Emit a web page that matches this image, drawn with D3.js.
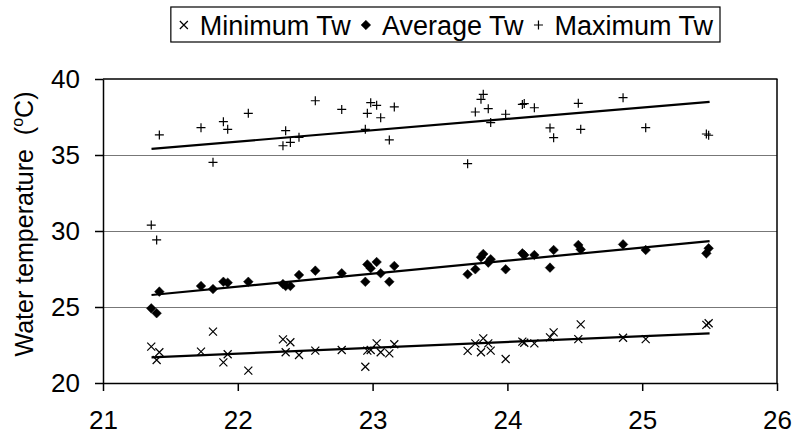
<!DOCTYPE html>
<html><head><meta charset="utf-8">
<script src="https://cdn.jsdelivr.net/npm/d3@7"></script>
<style>body{margin:0;background:#fff} svg{display:block;font-family:"Liberation Sans",Arial,sans-serif}</style>
</head><body><svg id="c" width="793" height="439"></svg>
<script>
// ---- data ----
const airTemp = [21.358,21.398,21.418,21.727,21.816,21.893,21.925,22.078,22.335,22.355,22.39,22.454,22.575,22.771,22.946,22.961,22.986,23.03,23.06,23.124,23.161,23.705,23.762,23.804,23.821,23.858,23.876,23.987,24.111,24.125,24.2,24.316,24.343,24.526,24.544,24.858,25.026,25.476,25.493];
const minTw = [22.39,21.51,22.02,22.06,23.38,21.36,21.89,20.81,22.87,22.02,22.68,21.84,22.13,22.17,21.07,22.13,22.17,22.61,22.02,21.95,22.55,22.11,22.61,22.02,22.94,22.61,22.13,21.58,22.72,22.65,22.61,23.0,23.33,22.89,23.86,22.98,22.89,23.82,23.93];
const avgTw = [24.91,24.59,26.01,26.38,26.18,26.66,26.6,26.66,26.51,26.38,26.38,27.11,27.39,27.22,26.66,27.8,27.55,27.96,27.22,26.66,27.7,27.15,27.48,28.27,28.49,27.92,28.14,27.48,28.53,28.42,28.42,27.59,28.75,29.08,28.79,29.12,28.75,28.53,28.86];
const maxTw = [30.39,29.41,36.32,36.8,34.52,37.19,36.69,37.74,35.61,36.6,35.83,36.16,38.57,38.0,36.69,37.74,38.44,38.27,37.45,35.99,38.16,34.43,37.83,38.66,38.99,38.05,37.13,37.68,38.33,38.38,38.11,36.78,36.14,38.4,36.69,38.77,36.8,36.38,36.3];
const trendX = [21.36, 25.5];
const trendMin = [21.69, 23.27];
const trendAvg = [25.79, 29.34];
const trendMax = [35.4, 38.5];
const xTicks = [21,22,23,24,25,26];
const yTicks = [20,25,30,35,40];
const gridValues = [25,30,35];
const seriesNames = ["Minimum Tw","Average Tw","Maximum Tw"];

// ---- layout ----
const svg = d3.select("#c");
const x = d3.scaleLinear([21,26],[103,777]);
const y = d3.scaleLinear([20,40],[383,79]);

const crossP = "M-4,-4L4,4M-4,4L4,-4";
const plusP = "M-4.5,0L4.5,0M0,-4.5L0,4.5";
const diamondP = "M0,-4.8L4.8,0L0,4.8L-4.8,0Z";

// gridlines
svg.append("g").selectAll("line").data(gridValues).join("line")
  .attr("x1",x(21)).attr("x2",x(26))
  .attr("y1",d=>Math.round(y(d))+0.5).attr("y2",d=>Math.round(y(d))+0.5)
  .attr("stroke","#777").attr("stroke-width",1);

// plot border top & right
svg.append("line").attr("x1",x(21)).attr("x2",x(26)+0.5).attr("y1",y(40)).attr("y2",y(40)).attr("stroke","#000").attr("stroke-width",1.5);
svg.append("line").attr("x1",x(26)).attr("x2",x(26)).attr("y1",y(40)).attr("y2",y(20)).attr("stroke","#000").attr("stroke-width",1.5);

// axes
const ax = svg.append("g").attr("transform",`translate(0,${y(20)})`)
  .call(d3.axisBottom(x).tickValues(xTicks).tickFormat(d3.format("d")).tickSize(8).tickSizeOuter(0).tickPadding(20));
const ay = svg.append("g").attr("transform",`translate(${x(21)},0)`)
  .call(d3.axisLeft(y).tickValues(yTicks).tickFormat(d3.format("d")).tickSize(8).tickSizeOuter(0).tickPadding(15));
[ax,ay].forEach(g=>{
  g.selectAll("path,line").attr("stroke","#000").attr("stroke-width",1.5);
  g.selectAll("text").attr("font-size",26).attr("fill","#000").attr("font-family","'Liberation Sans',Arial,sans-serif");
});

// y title
svg.append("text").attr("transform","translate(33,224) rotate(-90)")
  .attr("text-anchor","middle").attr("font-size",25).style("white-space","pre")
  .call(t=>{t.append("tspan").text("Water temperature  (");
    t.append("tspan").attr("font-size",16).attr("dy",-10).text("o");
    t.append("tspan").attr("dy",10).text("C)");});

// trend lines
const tl = d3.line().x(d=>x(d[0])).y(d=>y(d[1]));
[trendMin,trendAvg,trendMax].forEach(t=>{
  svg.append("path").attr("d",tl(trendX.map((v,i)=>[v,t[i]])))
    .attr("fill","none").attr("stroke","#000").attr("stroke-width",2.2);
});

// points
function pts(vals, path, fill){
  svg.append("g").selectAll("path").data(airTemp.map((v,i)=>[v,vals[i]])).join("path")
    .attr("transform",d=>`translate(${x(d[0])},${y(d[1])})`)
    .attr("d",path).attr("fill",fill?"#000":"none").attr("stroke","#000").attr("stroke-width",fill?0.5:1.2);
}
pts(minTw,crossP,false);
pts(avgTw,diamondP,true);
pts(maxTw,plusP,false);

// legend
const lg = svg.append("g");
const paths=[crossP,diamondP,plusP];
let cx = 0;
seriesNames.forEach((n,i)=>{
  const mx = cx;
  const t = lg.append("text").attr("x",mx+16).attr("y",34.5).attr("font-size",27).text(n);
  lg.append("path").attr("transform",`translate(${mx},25)`).attr("d",paths[i])
    .attr("fill",i===1?"#000":"none").attr("stroke","#000").attr("stroke-width",i===1?0.5:1.2);
  const w = t.node().getComputedTextLength();
  cx = mx+16+w+15;
});
const rightText = cx-15;
const boxL = -13, boxR = rightText+7;
lg.insert("rect",":first-child").attr("x",boxL).attr("y",7).attr("width",boxR-boxL).attr("height",35)
  .attr("fill","#fff").attr("stroke","#000").attr("stroke-width",1.2);
lg.attr("transform",`translate(${720-boxR},0)`);
</script></body></html>
